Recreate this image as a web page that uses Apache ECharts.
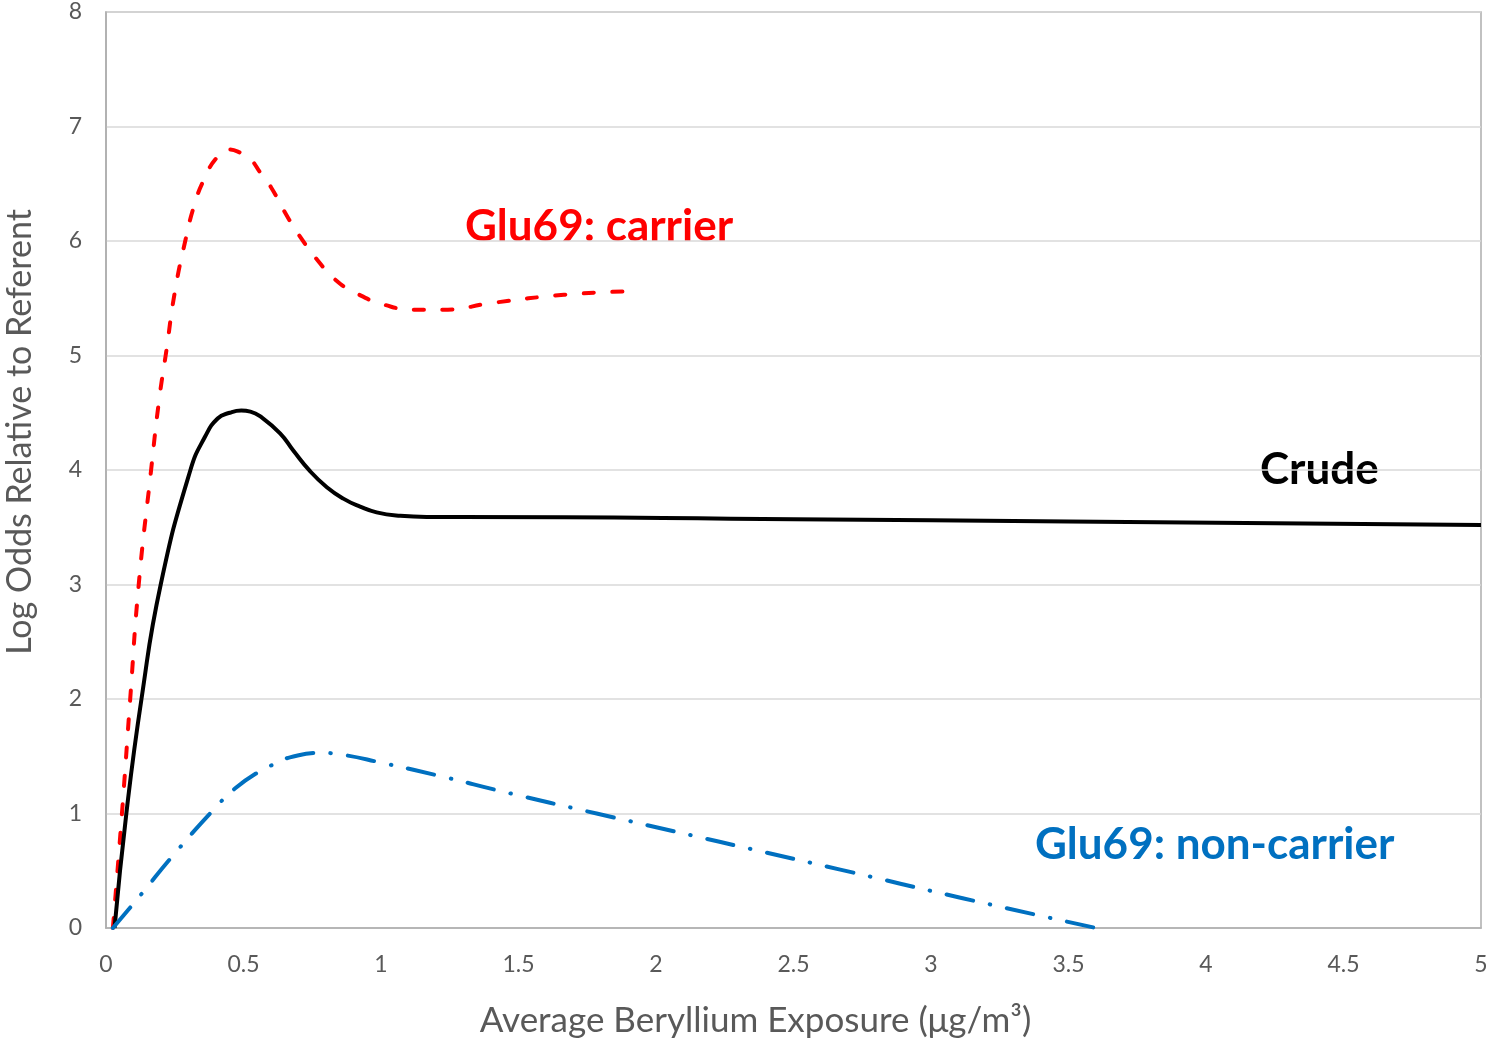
<!DOCTYPE html>
<html>
<head>
<meta charset="utf-8">
<script src="https://cdn.jsdelivr.net/npm/echarts@6/dist/echarts.min.js"></script>
<style>
html,body{margin:0;padding:0;background:#fff;}
#main{width:1486px;height:1038px;}
</style>
</head>
<body>
<div id="main"></div>
<script>
// Data
const carrierX = [0.025,0.058,0.088,0.119,0.164,0.193,0.22,0.25,0.29,0.322,0.355,0.40,0.446,0.49,0.524,0.563,0.60,0.653,0.705,0.77,0.835,0.913,1.017,1.12,1.225,1.407,1.665,1.887];
const carrierY = [0,1,2,3,4,4.61,5.05,5.55,6.02,6.32,6.53,6.72,6.80,6.77,6.72,6.59,6.47,6.24,6.04,5.83,5.66,5.54,5.44,5.40,5.40,5.46,5.53,5.56];
const crudeX = [0.031,0.074,0.129,0.199,0.307,0.36,0.406,0.45,0.492,0.525,0.56,0.633,0.681,0.742,0.803,0.863,0.924,0.984,1.07,1.166,1.29,2.5,3.5,5];
const crudeY = [0,1,2,3,4,4.29,4.45,4.50,4.52,4.51,4.47,4.32,4.17,3.99,3.85,3.75,3.68,3.63,3.60,3.59,3.59,3.57,3.55,3.52];
const nonCarrierX = [0.025,0.13,0.239,0.39,0.47,0.56,0.62,0.669,0.778,0.839,1.008,1.227,1.445,1.784,2.67,3.115,3.6];
const nonCarrierY = [0,0.30,0.62,1.03,1.22,1.37,1.44,1.49,1.53,1.52,1.44,1.32,1.19,1.00,0.51,0.26,0];
const xTicks = {min:0, max:5, interval:0.5};
const yTicks = {min:0, max:8, interval:1};

const zip = (xs, ys) => xs.map((x, i) => [x, ys[i]]);
const chart = echarts.init(document.getElementById('main'), null, {renderer:'canvas'});
const font = 'Lato, "Open Sans", sans-serif';
chart.setOption({
  animation:false,
  backgroundColor:'#ffffff',
  grid:{left:106, right:5, top:12, bottom:110, outerBoundsMode:'none', containLabel:false,
        show:true, borderColor:'#ADADAD', borderWidth:1.5},
  xAxis:{
    type:'value', min:xTicks.min, max:xTicks.max, interval:xTicks.interval,
    name:'Average Beryllium Exposure (μg/m³)', nameLocation:'middle', nameGap:75,
    nameTextStyle:{fontFamily:font, fontSize:35, color:'#595959', padding:[0,76,0,0]},
    axisLine:{show:true, lineStyle:{color:'#ADADAD', width:1.5}},
    axisTick:{show:false},
    axisLabel:{fontFamily:font, fontSize:23, color:'#595959', margin:25},
    splitLine:{show:false}
  },
  yAxis:{
    type:'value', min:yTicks.min, max:yTicks.max, interval:yTicks.interval,
    name:'Log Odds Relative to Referent', nameLocation:'middle', nameGap:69,
    nameTextStyle:{fontFamily:font, fontSize:34, color:'#595959', padding:[0,0,0,76]},
    axisLine:{show:true, lineStyle:{color:'#ADADAD', width:1.5}},
    axisTick:{show:false},
    axisLabel:{fontFamily:font, fontSize:23, color:'#595959', margin:24},
    splitLine:{show:true, lineStyle:{color:'#D9D9D9', width:1.5}}
  },
  series:[
    {type:'line', name:'Glu69: carrier', data:zip(carrierX, carrierY), smooth:0.5, symbol:'none',
     lineStyle:{color:'#FF0000', width:4, type:[10,18.5], cap:'round'}},
    {type:'line', name:'Crude', data:zip(crudeX, crudeY), smooth:0.5, symbol:'none',
     lineStyle:{color:'#000000', width:4}},
    {type:'line', name:'Glu69: non-carrier', data:zip(nonCarrierX, nonCarrierY), smooth:0.5, symbol:'none',
     lineStyle:{color:'#0070C0', width:4, type:[27,17,0.5,17], cap:'round'}}
  ],
  graphic:[
    {type:'text', left:465, top:205, style:{text:'Glu69: carrier', fill:'#FF0000', font:'bold 44px ' + font}},
    {type:'text', left:1260, top:448, style:{text:'Crude', fill:'#000000', font:'bold 44px ' + font}},
    {type:'text', left:1035, top:823, style:{text:'Glu69: non-carrier', fill:'#0070C0', font:'bold 44px ' + font}}
  ]
});
</script>
</body>
</html>
